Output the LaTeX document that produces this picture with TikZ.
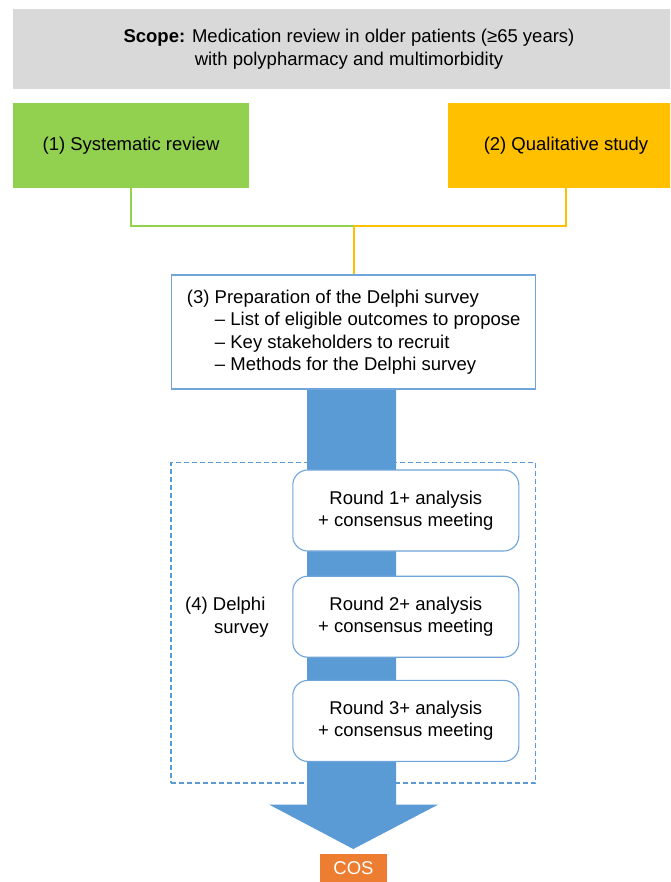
\documentclass[tikz,border=0pt]{standalone}
\usepackage{fontspec}
\setmainfont{Liberation Sans}
\definecolor{grayfill}{HTML}{D9D9D9}
\definecolor{greenfill}{HTML}{92D050}
\definecolor{orangefill}{HTML}{FFC000}
\definecolor{bluefill}{HTML}{5B9BD5}
\definecolor{blueline}{HTML}{6FA5DA}
\definecolor{cosfill}{HTML}{ED7D31}
\begin{document}
\begin{tikzpicture}[x=1pt,y=-1pt,
  every node/.style={font=\fontsize{18.5}{22.5}\selectfont, inner sep=0pt},
  flatbox/.style={rectangle, draw=none, align=center},
  prepbox/.style={rectangle, draw=blueline, line width=1.1pt, fill=white, align=left},
  roundbox/.style={rectangle, rounded corners=15pt, draw=blueline, line width=1.1pt, fill=white, align=center, minimum width=226pt, minimum height=81pt},
  greenconn/.style={draw=greenfill, line width=1.4pt},
  orangeconn/.style={draw=orangefill, line width=1.4pt},
  dashbox/.style={draw=bluefill, line width=1.1pt, dash pattern=on 5pt off 3pt}
]
\clip (0,0) rectangle (670,882);
\fill[white] (0,0) rectangle (670,882);

% scope
\node[flatbox, fill=grayfill, minimum width=672pt, minimum height=80pt] (scope) at (349,49)
  {\textbf{Scope:} Medication review in older patients (≥65 years)\\with polypharmacy and multimorbidity};

% sources
\node[flatbox, fill=greenfill, minimum width=236pt, minimum height=84.5pt] (sr) at (131,145.5) {(1) Systematic review};
\node[flatbox, fill=orangefill, minimum width=236pt, minimum height=84.5pt] (qs) at (566,145.5) {(2) Qualitative study};

% delphi dashed frame
\node[rectangle, dashbox, minimum width=364.7pt, minimum height=320.3pt] (frame) at (353.35,622.85) {};

% big arrow
\fill[bluefill] (307,389) -- (396,389) -- (396,804.5) -- (438.3,804.5) -- (353.3,849) -- (269,804.5) -- (307,804.5) -- cycle;

% preparation box
\node[prepbox, minimum width=364pt, minimum height=114pt] (prep) at (353.7,332)
  {(3) Preparation of the Delphi survey\\
   \hspace*{28pt}– List of eligible outcomes to propose\\
   \hspace*{28pt}– Key stakeholders to recruit\\
   \hspace*{28pt}– Methods for the Delphi survey};

% rounds
\node[roundbox] (r1) at (405.8,510.5) {Round 1+ analysis\\+ consensus meeting};
\node[roundbox] (r2) at (405.8,616.7) {Round 2+ analysis\\+ consensus meeting};
\node[roundbox] (r3) at (405.8,720.9) {Round 3+ analysis\\+ consensus meeting};

\node[anchor=west, align=left] (delphi) at (185,617) {(4) Delphi\\\hspace*{29pt}survey};

% COS
\node[flatbox, fill=cosfill, text=white, minimum width=66.4pt, minimum height=27.7pt] (cos) at (353.5,868) {COS};

% connectors
\coordinate (j) at (354,226);
\draw[greenconn] (sr.south) |- (j);
\draw[orangeconn] (qs.south) |- (j);
\draw[orangeconn] (j) -- (j |- prep.north);
\end{tikzpicture}
\end{document}
